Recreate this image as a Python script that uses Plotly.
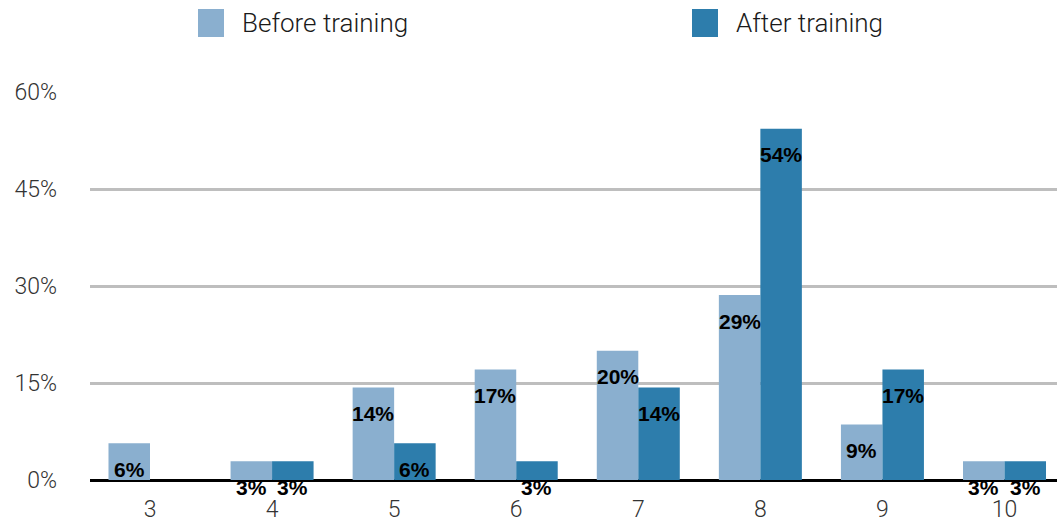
import plotly.graph_objects as go

categories = [3, 4, 5, 6, 7, 8, 9, 10]
before_training = [5.7, 2.9, 14.3, 17.1, 20.0, 28.6, 8.6, 2.9]
after_training = [0.0, 2.9, 5.7, 2.9, 14.3, 54.3, 17.1, 2.9]
y_ticks = [0, 15, 30, 45, 60]
series_names = ["Before training", "After training"]

C_BEFORE = "#8AAFCF"
C_AFTER = "#2D7DAC"
FONT = "Liberation Sans"
LIGHT = "Roboto"

W, H = 1057, 522
L, R, T, B = 90, 0, 92, 42
PW, PH = W - L - R, H - T - B
BARGAP = 0.32


def px(x):
    return (x - L) / PW


def py(y):
    return (H - B - y) / PH


fig = go.Figure()
for name, vals, col in [(series_names[0], before_training, C_BEFORE),
                        (series_names[1], after_training, C_AFTER)]:
    fig.add_trace(go.Bar(x=categories, y=vals, name=name, marker_color=col,
                         marker_line_width=0, showlegend=False, hoverinfo="skip"))

# value labels, drawn from data
half = (1 - BARGAP) / 4
annotations = []
for vals, off in [(before_training, -half), (after_training, half)]:
    for c, v in zip(categories, vals):
        if v <= 0:
            continue
        annotations.append(dict(x=c + off, y=v, xref="x", yref="y",
                                text=f"{round(v):d}%", showarrow=False,
                                yanchor="middle", xanchor="center", yshift=-26,
                                font=dict(family=FONT, size=21, color="#000000", weight="bold")))

# manual legend
shapes = []
for name, col, sx, tx in [(series_names[0], C_BEFORE, 198, 240),
                          (series_names[1], C_AFTER, 692, 734)]:
    shapes.append(dict(type="rect", xref="paper", yref="paper",
                       x0=px(sx), x1=px(sx + 26), y0=py(37), y1=py(9),
                       fillcolor=col, line_width=0))
    annotations.append(dict(x=px(tx), y=py(23), xref="paper", yref="paper",
                            text=name, showarrow=False, xanchor="left", yanchor="middle",
                            font=dict(family=LIGHT, size=26, color="#1a1a1a", weight=300)))

fig.update_layout(
    width=W, height=H,
    margin=dict(l=L, r=R, t=T, b=B, pad=0),
    paper_bgcolor="white", plot_bgcolor="white",
    barmode="group", bargap=BARGAP, bargroupgap=0,
    shapes=shapes, annotations=annotations,
    font=dict(family=LIGHT, color="#333333"),
)
fig.update_xaxes(range=[2.5085, 10.43], tickvals=categories,
                 ticktext=[str(c) for c in categories],
                 showgrid=False, zeroline=False, showline=False, ticks="",
                 tickfont=dict(family=LIGHT, size=23, color="#333333", weight=300),
                 ticklabelstandoff=13)
fig.update_yaxes(range=[0, 60], tickvals=y_ticks,
                 ticktext=[f"{t}%" for t in y_ticks],
                 showgrid=True, gridcolor="#BEBEBE", gridwidth=2.5,
                 zeroline=True, zerolinecolor="#000000", zerolinewidth=2.5,
                 showline=False, ticks="",
                 tickfont=dict(family=LIGHT, size=23, color="#333333", weight=300),
                 ticklabelstandoff=32)

fig.write_html("out.html")
